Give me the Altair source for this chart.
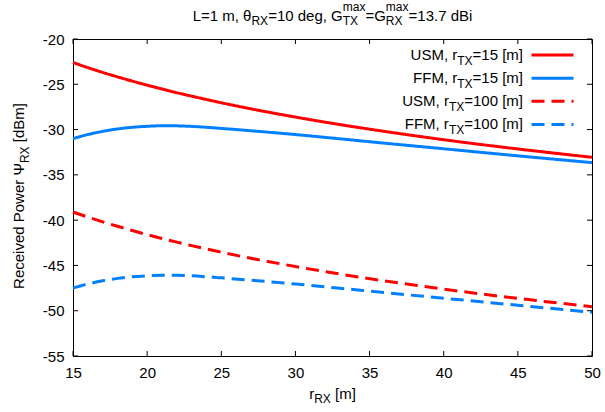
import altair as alt
import pandas as pd

# ---------------- data ----------------
r_rx = [15, 16, 17, 18, 19, 20, 21, 22, 23, 24, 25, 27, 30, 33, 36, 40, 45, 50]
usm_15 = [-22.60, -23.16, -23.69, -24.18, -24.65, -25.10, -25.52, -25.93, -26.31, -26.68,
          -27.04, -27.71, -28.62, -29.45, -30.20, -31.12, -32.14, -33.06]
ffm_15 = [-31.00, -30.55, -30.20, -29.93, -29.75, -29.64, -29.58, -29.59, -29.65, -29.75,
          -29.87, -30.13, -30.55, -31.02, -31.50, -32.12, -32.90, -33.65]
usm_100 = [-39.10, -39.66, -40.19, -40.68, -41.15, -41.60, -42.02, -42.43, -42.81, -43.18,
           -43.54, -44.21, -45.12, -45.95, -46.70, -47.62, -48.64, -49.56]
ffm_100 = [-47.50, -47.05, -46.70, -46.43, -46.25, -46.14, -46.08, -46.09, -46.15, -46.25,
           -46.37, -46.63, -47.05, -47.52, -48.00, -48.62, -49.40, -50.17]

series_names = ["USM15", "FFM15", "USM100", "FFM100"]
series_colors = ["#ff0000", "#0080ff", "#ff0000", "#0080ff"]
series_dash = [[1, 0], [1, 0], [13, 7], [13, 7]]
legend_prefix = ["USM, r", "FFM, r", "USM, r", "FFM, r"]
legend_suffix = ["=15 [m]", "=15 [m]", "=100 [m]", "=100 [m]"]

x_ticks = [15, 20, 25, 30, 35, 40, 45, 50]
y_ticks = [-55, -50, -45, -40, -35, -30, -25, -20]

# ---------------- layout constants ----------------
W, H = 519, 317
PAD = {"left": 73, "top": 39, "right": 13, "bottom": 56}
FONT = "Liberation Sans, Arial, Helvetica, sans-serif"
FS, SFS = 15, 12       # main / sub-superscript font size
DROP, RAISE = 4.5, 10  # subscript drop, superscript raise
TICK = 5

AW = {' ': 278, ',': 278, '.': 278, '-': 333, '=': 584, '[': 278, ']': 278,
      'A': 667, 'B': 667, 'C': 722, 'D': 722, 'E': 667, 'F': 611, 'G': 778, 'H': 722,
      'I': 278, 'L': 556, 'M': 833, 'N': 722, 'O': 778, 'P': 667, 'R': 722, 'S': 667,
      'T': 611, 'U': 722, 'X': 667,
      'a': 556, 'b': 556, 'c': 500, 'd': 556, 'e': 556, 'g': 556, 'i': 222, 'm': 833,
      'n': 556, 'o': 556, 'r': 333, 's': 500, 'v': 500, 'w': 722, 'x': 500,
      'θ': 556, 'Ψ': 834}
for dgt in "0123456789":
    AW[dgt] = 556


def tw(s, size):
    return sum(AW.get(c, 556) for c in s) * size / 1000.0


def layout(pieces):
    """Returns (text, dx, dy, size) pieces; leading spaces become an x-advance."""
    out, x = [], 0.0
    for kind, t in pieces:
        if kind == "n":
            stripped = t.lstrip(" ")
            x += tw(t[:len(t) - len(stripped)], FS)
            out.append((stripped, x, 0, FS)); x += tw(stripped, FS)
        elif kind == "sub":
            out.append((t, x, DROP, SFS)); x += tw(t, SFS)
        else:  # stacked sub + sup
            lo, hi = t
            out.append((lo, x, DROP, SFS)); out.append((hi, x, -RAISE, SFS))
            x += max(tw(lo, SFS), tw(hi, SFS))
    return out, x


one = pd.DataFrame({"k": [0]})


def txt(s, x, y, size, angle=0):
    return alt.Chart(one).mark_text(
        text=s, align="left", baseline="alphabetic", fontSize=size, font=FONT,
        color="black", angle=angle
    ).encode(x=alt.value(x), y=alt.value(y))


layers = []

# ---------------- data lines ----------------
rows = []
for name, vals in zip(series_names, [usm_15, ffm_15, usm_100, ffm_100]):
    for r, v in zip(r_rx, vals):
        rows.append({"r": r, "P": v, "s": name})
df = pd.DataFrame(rows)

xs = alt.Scale(domain=[15, 50], nice=False, zero=False)
ys = alt.Scale(domain=[-55, -20], nice=False, zero=False)

lines = alt.Chart(df).mark_line(interpolate="monotone", strokeWidth=3, strokeCap="butt").encode(
    x=alt.X("r:Q", scale=xs, axis=alt.Axis(values=x_ticks, title=None, labelPadding=9,
                                           labelExpr="'' + datum.value")),
    y=alt.Y("P:Q", scale=ys, axis=alt.Axis(values=y_ticks, title=None, labelPadding=9,
                                           labelExpr="'' + datum.value")),
    color=alt.Color("s:N", scale=alt.Scale(domain=series_names, range=series_colors), legend=None),
    strokeDash=alt.StrokeDash("s:N", scale=alt.Scale(domain=series_names, range=series_dash), legend=None),
    detail="s:N",
)
layers.append(lines)

# ---------------- inward ticks (mirrored) ----------------
xt = pd.DataFrame({"v": x_ticks})
yt = pd.DataFrame({"v": y_ticks})
tick_style = dict(color="black", strokeWidth=1)
layers.append(alt.Chart(xt).mark_rule(**tick_style).encode(
    x=alt.X("v:Q", scale=xs), y=alt.value(H), y2=alt.value(H - TICK)))
layers.append(alt.Chart(xt).mark_rule(**tick_style).encode(
    x=alt.X("v:Q", scale=xs), y=alt.value(0), y2=alt.value(TICK)))
layers.append(alt.Chart(yt).mark_rule(**tick_style).encode(
    y=alt.Y("v:Q", scale=ys), x=alt.value(0), x2=alt.value(TICK)))
layers.append(alt.Chart(yt).mark_rule(**tick_style).encode(
    y=alt.Y("v:Q", scale=ys), x=alt.value(W), x2=alt.value(W - TICK)))

# ---------------- title ----------------
title_pieces = [("n", "L=1 m, θ"), ("sub", "RX"), ("n", "=10 deg, G"), ("ss", ("TX", "max")),
                ("n", "=G"), ("ss", ("RX", "max")), ("n", "=13.7 dBi")]
tp, tot = layout(title_pieces)
x0 = W / 2 - tot / 2
base = -18.3
for s, dx, dy, size in tp:
    layers.append(txt(s, x0 + dx, base + dy, size))

# ---------------- x axis title ----------------
xp, tot = layout([("n", "r"), ("sub", "RX"), ("n", " [m]")])
x0 = W / 2 - tot / 2
base = H + 42.5
for s, dx, dy, size in xp:
    layers.append(txt(s, x0 + dx, base + dy, size))

# ---------------- y axis title (rotated) ----------------
yp, tot = layout([("n", "Received Power Ψ"), ("sub", "RX"), ("n", " [dBm]")])
y0 = 157 + tot / 2
bx = 24 - PAD["left"]
for s, dx, dy, size in yp:
    layers.append(txt(s, bx + dy, y0 - dx, size, angle=270))

# ---------------- legend ----------------
R = 450
row_y = [16, 39.2, 62.3, 85.4]
for i in range(4):
    p, tot = layout([("n", legend_prefix[i]), ("sub", "TX"), ("n", legend_suffix[i])])
    x0 = R - tot
    for s, dx, dy, size in p:
        layers.append(txt(s, x0 + dx, row_y[i] + 5 + dy, size))

leg = pd.DataFrame({"s": series_names, "yy": row_y})
layers.append(alt.Chart(leg).mark_rule(strokeWidth=3, strokeCap="butt").encode(
    x=alt.value(458.5), x2=alt.value(500.5),
    y=alt.Y("yy:Q", scale=None),
    color=alt.Color("s:N", scale=alt.Scale(domain=series_names, range=series_colors), legend=None),
    strokeDash=alt.StrokeDash("s:N", scale=alt.Scale(domain=series_names, range=series_dash), legend=None),
))

chart = alt.layer(*layers).properties(
    width=W, height=H, padding=PAD, autosize=alt.AutoSizeParams(type="none")
).configure_view(
    stroke="black", strokeWidth=1
).configure_axis(
    grid=False, domain=False, ticks=False, tickSize=0,
    labelFont=FONT, labelFontSize=FS, labelColor="black", labelFlush=False, labelOverlap=False
)

chart.save("out.html", embed_options={"renderer": "svg", "actions": False})
